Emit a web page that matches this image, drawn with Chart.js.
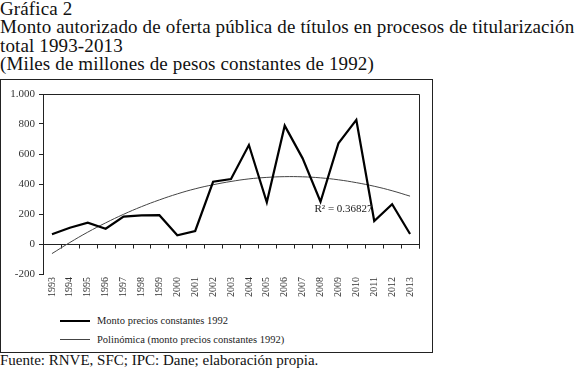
<!DOCTYPE html>
<html>
<head>
<meta charset="utf-8">
<script src="https://cdn.jsdelivr.net/npm/chart.js@4.4.1/dist/chart.umd.min.js"></script>
<style>
  body { margin: 0; width: 576px; height: 372px; background: #fff; color: #111;
         font-family: "Liberation Serif", serif; position: relative; overflow: hidden; }
  #titulo { position: absolute; left: 0; top: 0; font-size: 19px; letter-spacing: 0.13px; line-height: 18.3px; white-space: nowrap; }
  #marco { position: absolute; left: 0; top: 79px; width: 431px; height: 272px; border: 1px solid #222; }
  #leyenda { position: absolute; left: 59px; top: 231px; font-size: 10.5px; color: #222; font-family: "Liberation Serif", serif; }
  .item { display: flex; align-items: center; height: 19px; }
  .linea { display: inline-block; width: 30px; margin-right: 7px; }
  #fuente { position: absolute; left: 0; top: 352px; font-size: 15px; white-space: nowrap; }
</style>
</head>
<body>
<div id="titulo">Gráfica 2<br>Monto autorizado de oferta pública de títulos en procesos de titularización<br>total 1993-2013<br>(Miles de millones de pesos constantes de 1992)</div>
<div id="marco">
  <canvas id="grafico" width="431" height="230"></canvas>
  <div id="leyenda"></div>
</div>
<div id="fuente">Fuente: RNVE, SFC; IPC: Dane; elaboración propia.</div>
<script>
const anios = ['1993', '1994', '1995', '1996', '1997', '1998', '1999', '2000', '2001', '2002', '2003',
  '2004', '2005', '2006', '2007', '2008', '2009', '2010', '2011', '2012', '2013'];
const montoConstante = [65, 108, 142, 102, 182, 191, 192, 58, 87, 415, 433,
  660, 278, 789, 571, 282, 671, 827, 153, 265, 67];
const tendenciaPolinomica = [-64, 10, 79, 141, 198, 249, 294, 334, 368, 395, 417,
  434, 444, 449, 448, 441, 428, 409, 385, 355, 319];
const ticksY = [-200, 0, 200, 400, 600, 800, 1000];
const etiquetaR2 = 'R² = 0.36827';
const anioR2 = '2008';
const valorR2 = 235;

const serif = '"Liberation Serif", serif';

// marco superior/derecho, linea del cero con sus marcas y la etiqueta del R2
const marcoYCero = {
  id: 'marcoYCero',
  beforeDatasetsDraw(chart) {
    const { ctx, chartArea: a, scales: { x, y } } = chart;
    const y0 = Math.round(y.getPixelForValue(0)) + 0.5;
    ctx.save();
    ctx.strokeStyle = '#222';
    ctx.lineWidth = 1;
    ctx.beginPath();
    ctx.moveTo(a.left, a.top + 0.5);
    ctx.lineTo(a.right + 0.5, a.top + 0.5);
    ctx.lineTo(a.right + 0.5, y0 + 4);
    ctx.moveTo(a.left, y0);
    ctx.lineTo(a.right, y0);
    for (let i = 0; i <= anios.length; i++) {
      const px = Math.round(x.getPixelForValue(i - 0.5)) + 0.5;
      ctx.moveTo(px, y0);
      ctx.lineTo(px, y0 + 4);
    }
    ctx.stroke();
    ctx.restore();
  },
  afterDatasetsDraw(chart) {
    const { ctx, scales: { x, y } } = chart;
    ctx.save();
    ctx.font = '11px ' + serif;
    ctx.fillStyle = '#222';
    ctx.textBaseline = 'middle';
    ctx.fillText(etiquetaR2, x.getPixelForValue(anios.indexOf(anioR2)) - 6, y.getPixelForValue(valorR2));
    ctx.restore();
  }
};

const grafico = new Chart('grafico', {
  type: 'line',
  data: {
    labels: anios,
    datasets: [
      {
        label: 'Monto precios constantes 1992',
        data: montoConstante,
        borderColor: '#000',
        borderWidth: 2.2,
        pointRadius: 0,
        tension: 0,
        fill: false
      },
      {
        label: 'Polinómica (monto precios constantes 1992)',
        data: tendenciaPolinomica,
        borderColor: '#444',
        borderWidth: 1,
        pointRadius: 0,
        tension: 0.4,
        fill: false
      }
    ]
  },
  options: {
    responsive: false,
    animation: false,
    layout: { padding: { left: 0, right: 13, top: 14, bottom: 0 } },
    plugins: { legend: { display: false }, tooltip: { enabled: false } },
    scales: {
      x: {
        type: 'category',
        offset: true,
        grid: { display: false, drawTicks: false },
        border: { display: false },
        ticks: { minRotation: 90, maxRotation: 90, autoSkip: false, padding: 3, color: '#333',
                 font: { family: serif, size: 10 } },
        afterFit: s => { s.height = 36; }
      },
      y: {
        min: ticksY[0],
        max: ticksY[ticksY.length - 1],
        afterBuildTicks: s => { s.ticks = ticksY.map(v => ({ value: v })); },
        ticks: { padding: 4, color: '#333', font: { family: serif, size: 11 },
                 callback: v => v.toLocaleString('de-DE') },
        grid: { drawOnChartArea: false, drawTicks: true, tickLength: 4, color: '#222' },
        border: { color: '#222', width: 1 },
        afterFit: s => { s.width = 42; }
      }
    }
  },
  plugins: [marcoYCero]
});

// leyenda en HTML a partir de las series
const leyenda = document.getElementById('leyenda');
grafico.data.datasets.forEach(ds => {
  const fila = document.createElement('div');
  fila.className = 'item';
  const linea = document.createElement('span');
  linea.className = 'linea';
  linea.style.borderTop = ds.borderWidth + 'px solid ' + ds.borderColor;
  const texto = document.createElement('span');
  texto.textContent = ds.label;
  fila.appendChild(linea);
  fila.appendChild(texto);
  leyenda.appendChild(fila);
});
</script>
</body>
</html>
